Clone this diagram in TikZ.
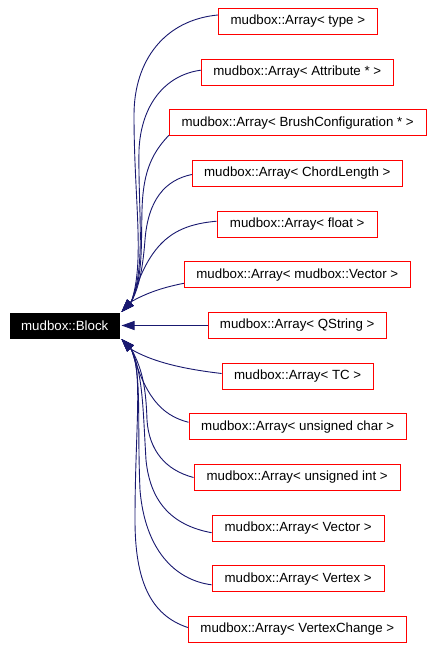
\documentclass[tikz,border=0pt]{standalone}
\usepackage{fontspec}
\setmainfont{Liberation Sans}
\usetikzlibrary{arrows.meta,calc}
\definecolor{edgec}{HTML}{191970}
\definecolor{boxred}{HTML}{FF0000}
\begin{document}
\begin{tikzpicture}[x=1pt,y=-1pt,
  cls/.style={draw=boxred,line width=1pt,fill=white,minimum height=26pt,inner sep=0pt,
    font=\fontsize{13.3}{16}\selectfont},
  basecls/.style={draw=black,fill=black,text=white,line width=1pt,minimum width=109.5pt,
    minimum height=25pt,inner sep=0pt,font=\fontsize{13.3}{16}\selectfont},
  inh/.style={draw=edgec,line width=0.9pt,-{Triangle[length=13pt,width=9pt]},edgec}]
\useasboundingbox[fill=white] (0,0) rectangle (434,650);

\node[basecls] (block) at (64.75,325.5) {mudbox::Block};

\node[cls,minimum width=159pt]   (c0)  at (297.8,21.5)  {mudbox::Array< type >};
\node[cls,minimum width=192pt]   (c1)  at (297.3,72.2)  {mudbox::Array< Attribute * >};
\node[cls,minimum width=256.7pt] (c2)  at (297.7,122.8) {mudbox::Array< BrushConfiguration * >};
\node[cls,minimum width=210pt]   (c3)  at (297.3,173.5) {mudbox::Array< ChordLength >};
\node[cls,minimum width=160.3pt] (c4)  at (297.2,224.2) {mudbox::Array< float >};
\node[cls,minimum width=226pt]   (c5)  at (297.3,274.8) {mudbox::Array< mudbox::Vector >};
\node[cls,minimum width=178.3pt] (c6)  at (297.2,325.5) {mudbox::Array< QString >};
\node[cls,minimum width=151.3pt] (c7)  at (297.7,376.2) {mudbox::Array< TC >};
\node[cls,minimum width=217.3pt] (c8)  at (297.7,426.8) {mudbox::Array< unsigned char >};
\node[cls,minimum width=206.3pt] (c9)  at (297.2,477.5) {mudbox::Array< unsigned int >};
\node[cls,minimum width=172.3pt] (c10) at (298.2,528.2) {mudbox::Array< Vector >};
\node[cls,minimum width=172.3pt] (c11) at (298.2,578.8) {mudbox::Array< Vertex >};
\node[cls,minimum width=218pt]   (c12) at (297.3,629.5) {mudbox::Array< VertexChange >};

\coordinate (tu) at ($(block.north east)+(1.5,-0.5)$);
\coordinate (bu) at ($(tu)+(10,-10.5)$);
\coordinate (tl) at ($(block.south east)+(1.5,0.5)$);
\coordinate (bl) at ($(tl)+(10,10.5)$);
\coordinate (tm) at ($(block.east)+(1.5,0)$);

% upper edges
\draw[inh] ($(c0.west)+(0,-6.5)$) .. controls (165,20) and (134,60) .. (134,115)
  .. controls (134,200) and (145,260) .. (bu) -- (tu);
\draw[inh] ($(c1.west)+(0,-2)$) .. controls (165,75) and (141,105) .. (139,150)
  .. controls (138,210) and (146,265) .. (bu) -- (tu);
\draw[inh] ($(c2.south west)+(0,-1)$) .. controls (150,155) and (143,175) .. (142,210)
  .. controls (141,250) and (143,275) .. (bu) -- (tu);
\draw[inh] ($(c3.west)+(0,1)$) .. controls (165,180) and (148,200) .. (145,240)
  .. controls (143,265) and (140,285) .. (bu) -- (tu);
\draw[inh] ($(c4.west)+(0,-3)$) .. controls (175,225) and (150,240) .. (bu) -- (tu);
\draw[inh] ($(c5.west)+(0,8.5)$) .. controls (160,288) and (145,294) .. (bu) -- (tu);

% middle edge
\draw[inh] (c6.west) -- (tm);

% lower edges
\draw[inh] ($(c7.west)+(0,-2.7)$) .. controls (175,368) and (150,360) .. (bl) -- (tl);
\draw[inh] ($(c8.west)+(0,-4.5)$) .. controls (160,415) and (145,395) .. (bl) -- (tl);
\draw[inh] ($(c9.west)+(0,0)$) .. controls (165,470) and (149,450) .. (147,420)
  .. controls (146,390) and (143,370) .. (bl) -- (tl);
\draw[inh] ($(c10.west)+(0,4.5)$) .. controls (170,525) and (150,500) .. (146,460)
  .. controls (143,410) and (143,375) .. (bl) -- (tl);
\draw[inh] ($(c11.west)+(0,6)$) .. controls (175,580) and (145,550) .. (140,490)
  .. controls (137,420) and (142,375) .. (bl) -- (tl);
\draw[inh] ($(c12.west)+(0,-2)$) .. controls (150,615) and (135,580) .. (135,520)
  .. controls (135,430) and (143,375) .. (bl) -- (tl);
\end{tikzpicture}
\end{document}
